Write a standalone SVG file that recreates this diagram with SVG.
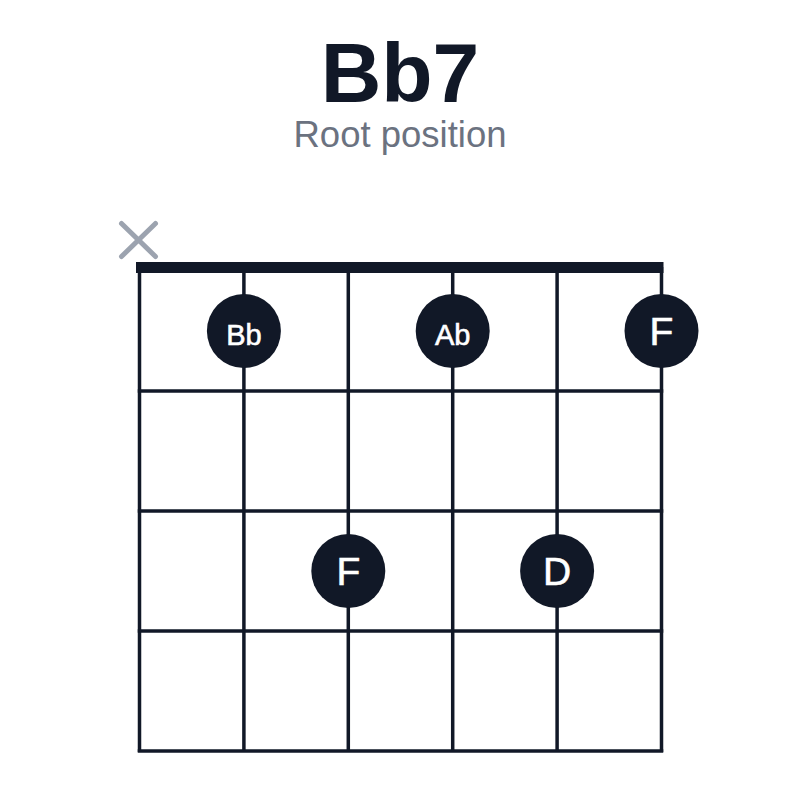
<svg xmlns="http://www.w3.org/2000/svg" width="800" height="800" viewBox="0 0 800 800">
<style>
.title{font-family:"Liberation Sans",Arial,sans-serif;font-weight:bold;font-size:84px;fill:#111827}
.sub{font-family:"Liberation Sans",Arial,sans-serif;font-size:36.5px;fill:#6b7280}
.grid line{stroke:#111827;stroke-width:3.5}
.dot{fill:#111827}
.lbl{font-family:"Liberation Sans",Arial,sans-serif;font-weight:normal;fill:#ffffff;stroke:#ffffff;stroke-width:0.6;text-anchor:middle}
.mute{stroke:#9ca3af;stroke-width:5;stroke-linecap:round}
</style>
<rect width="800" height="800" fill="#ffffff"/>
<text class="title" x="400" y="102" text-anchor="middle">Bb7</text>
<text class="sub" x="400" y="147" text-anchor="middle">Root position</text>
<g id="grid" class="grid">
<line x1="139.5" y1="267" x2="139.5" y2="752"/>
<line x1="243.9" y1="267" x2="243.9" y2="752"/>
<line x1="348.3" y1="267" x2="348.3" y2="752"/>
<line x1="452.7" y1="267" x2="452.7" y2="752"/>
<line x1="557.1" y1="267" x2="557.1" y2="752"/>
<line x1="661.5" y1="267" x2="661.5" y2="752"/>
<line x1="137.75" y1="391" x2="663.25" y2="391"/>
<line x1="137.75" y1="511" x2="663.25" y2="511"/>
<line x1="137.75" y1="631" x2="663.25" y2="631"/>
<line x1="137.75" y1="751" x2="663.25" y2="751"/>
<rect x="136" y="262" width="527.5" height="11" fill="#111827"/>
</g>
<g id="mute-6">
<line class="mute" x1="121.5" y1="223.5" x2="155.5" y2="256.5"/>
<line class="mute" x1="155.5" y1="223.5" x2="121.5" y2="256.5"/>
</g>
<g id="dot-bb">
<circle class="dot" cx="243.9" cy="331" r="37"/>
<text class="lbl" x="243.9" y="344.5" font-size="29">Bb</text>
</g>
<g id="dot-ab">
<circle class="dot" cx="452.7" cy="331" r="37"/>
<text class="lbl" x="452.7" y="344.5" font-size="29">Ab</text>
</g>
<g id="dot-f1">
<circle class="dot" cx="661.5" cy="331" r="37"/>
<text class="lbl" x="661.5" y="345" font-size="39">F</text>
</g>
<g id="dot-f2">
<circle class="dot" cx="348.3" cy="571" r="37"/>
<text class="lbl" x="348.3" y="585" font-size="39">F</text>
</g>
<g id="dot-d">
<circle class="dot" cx="557.1" cy="571" r="37"/>
<text class="lbl" x="557.1" y="585" font-size="39">D</text>
</g>
</svg>
